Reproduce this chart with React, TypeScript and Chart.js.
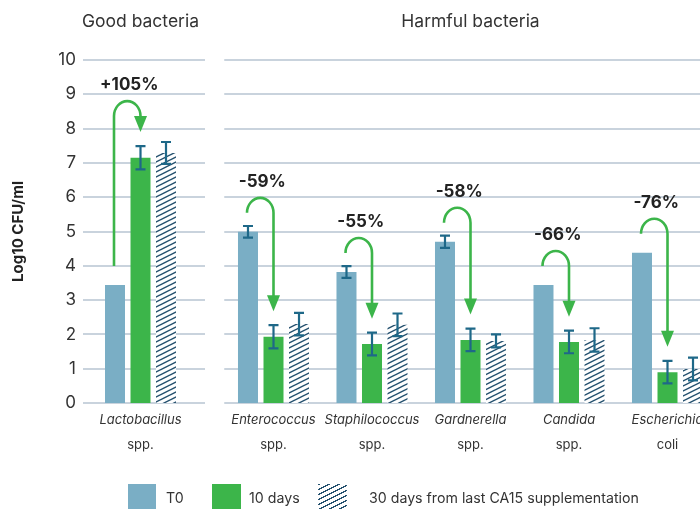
import React, { useEffect, useRef } from 'react';
import { Chart, registerables } from 'chart.js';

Chart.register(...registerables);

// ---------- data ----------
const categories: string[][] = [
  ['Lactobacillus', 'spp.'],
  ['Enterococcus', 'spp.'],
  ['Staphilococcus', 'spp.'],
  ['Gardnerella', 'spp.'],
  ['Candida', 'spp.'],
  ['Escherichia', 'coli'],
];
const panelTitles = ['Good bacteria', 'Harmful bacteria'];
const seriesNames = ['T0', '10 days', '30 days from last CA15 supplementation'];
const t0Values = [3.44, 4.99, 3.82, 4.7, 3.44, 4.38];
const day10Values = [7.15, 1.93, 1.72, 1.84, 1.78, 0.9];
const day30Values = [7.29, 2.3, 2.28, 1.81, 1.84, 0.99];
const t0Errors: (number | null)[] = [null, 0.17, 0.17, 0.18, null, null];
const day10Errors: (number | null)[] = [0.34, 0.34, 0.33, 0.33, 0.33, 0.33];
const day30Errors: (number | null)[] = [0.32, 0.33, 0.33, 0.19, 0.34, 0.33];
const changeLabels = ['+105%', '-59%', '-55%', '-58%', '-66%', '-76%'];
const yMin = 0;
const yMax = 10;
const yStep = 1;
const yAxisTitle = 'Log10 CFU/ml';

// ---------- styles ----------
const T0_COLOR = '#7aaec5';
const GREEN = '#3cb54a';
const HATCH = '#24506e';
const ERR = '#1e6888';
const GRID = '#c9d3dd';
const TEXT = '#333333';
const FONT = 'Inter';

function makeHatch(): CanvasPattern | string {
  const c = document.createElement('canvas');
  const w = 10;
  const h = 5;
  c.width = w;
  c.height = h;
  const g = c.getContext('2d');
  if (!g) return '#ffffff';
  g.fillStyle = '#ffffff';
  g.fillRect(0, 0, w, h);
  g.strokeStyle = HATCH;
  g.lineWidth = 1.4;
  for (const dy of [-h, 0, h]) {
    g.beginPath();
    g.moveTo(0, h + dy);
    g.lineTo(w, dy);
    g.stroke();
  }
  return g.createPattern(c, 'repeat') || '#ffffff';
}

interface PanelCfg {
  start: number;
  end: number;
  showYAxis: boolean;
  gridInset: number;
  titleIndex: number;
  titleCategory: number;
  categoryPercentage: number;
  padding: { left: number; right: number; top: number; bottom: number };
}

function buildChart(canvas: HTMLCanvasElement, cfg: PanelCfg, hatch: CanvasPattern | string) {
  const { start, end } = cfg;
  const labels = categories.slice(start, end);
  const vals = [t0Values.slice(start, end), day10Values.slice(start, end), day30Values.slice(start, end)];
  const errs = [t0Errors.slice(start, end), day10Errors.slice(start, end), day30Errors.slice(start, end)];
  const changes = changeLabels.slice(start, end);

  const plugin = {
    id: 'panelDecor',
    beforeDatasetsDraw(chart: any) {
      const { ctx, chartArea } = chart;
      const y = chart.scales.y;
      ctx.save();
      ctx.strokeStyle = GRID;
      ctx.lineWidth = 2;
      for (let v = yMin; v <= yMax; v += yStep) {
        const py = Math.round(y.getPixelForValue(v));
        ctx.beginPath();
        ctx.moveTo(chartArea.left + cfg.gridInset, py);
        ctx.lineTo(chartArea.right, py);
        ctx.stroke();
      }
      ctx.restore();
    },
    afterDatasetsDraw(chart: any) {
      const { ctx } = chart;
      const y = chart.scales.y;
      ctx.save();
      // error bars
      ctx.strokeStyle = ERR;
      ctx.lineWidth = 2.2;
      for (let d = 0; d < 3; d++) {
        const meta = chart.getDatasetMeta(d);
        meta.data.forEach((el: any, j: number) => {
          const e = errs[d][j];
          if (e == null) return;
          const top = y.getPixelForValue(vals[d][j] + e);
          const bot = y.getPixelForValue(vals[d][j] - e);
          ctx.beginPath();
          ctx.moveTo(el.x, top);
          ctx.lineTo(el.x, bot);
          ctx.moveTo(el.x - 5, top);
          ctx.lineTo(el.x + 5, top);
          ctx.moveTo(el.x - 5, bot);
          ctx.lineTo(el.x + 5, bot);
          ctx.stroke();
        });
      }
      // arrows
      const m0 = chart.getDatasetMeta(0);
      const m1 = chart.getDatasetMeta(1);
      m0.data.forEach((b0: any, j: number) => {
        const b1 = m1.data[j];
        const sx = b0.x - 1;
        const tx = b1.x;
        const sy = b0.y - 19;
        const e1 = errs[1][j] ?? 0;
        const tipY = y.getPixelForValue(vals[1][j] + e1) - 14;
        const headLen = 16;
        const headHalf = 6.5;
        const baseY = tipY - headLen;
        const cy = Math.min(sy, baseY);
        const rx = (tx - sx) / 2;
        const ry = 15;
        const cx = (sx + tx) / 2;
        ctx.strokeStyle = GREEN;
        ctx.fillStyle = GREEN;
        ctx.lineWidth = 2.6;
        ctx.beginPath();
        ctx.moveTo(sx, sy);
        ctx.lineTo(sx, cy);
        ctx.ellipse(cx, cy, rx, ry, 0, Math.PI, 2 * Math.PI);
        ctx.lineTo(tx, baseY + 1);
        ctx.stroke();
        ctx.beginPath();
        ctx.moveTo(tx - headHalf, baseY);
        ctx.lineTo(tx + headHalf, baseY);
        ctx.lineTo(tx, tipY);
        ctx.closePath();
        ctx.fill();
        ctx.fillStyle = '#222222';
        ctx.font = `bold 17px ${FONT}`;
        ctx.textAlign = 'center';
        ctx.textBaseline = 'middle';
        ctx.fillText(changes[j], cx + 2, cy - ry - 16);
      });
      ctx.restore();
    },
    afterDraw(chart: any) {
      const { ctx, chartArea } = chart;
      const xs = chart.scales.x;
      ctx.save();
      ctx.fillStyle = TEXT;
      ctx.textAlign = 'center';
      ctx.textBaseline = 'middle';
      labels.forEach((lab, i) => {
        const x = xs.getPixelForValue(i);
        ctx.font = `italic 13px ${FONT}`;
        ctx.fillText(lab[0], x, chartArea.bottom + 17);
        ctx.font = `13px ${FONT}`;
        ctx.fillText(lab[1], x, chartArea.bottom + 42);
      });
      ctx.font = `17.5px ${FONT}`;
      ctx.fillText(panelTitles[cfg.titleIndex], xs.getPixelForValue(cfg.titleCategory), 22);
      ctx.restore();
    },
  };

  const yScale: any = cfg.showYAxis
    ? {
        min: yMin,
        max: yMax,
        ticks: { stepSize: yStep, padding: 0, color: TEXT, font: { family: FONT, size: 17 } },
        grid: { display: false, drawTicks: false },
        border: { display: false },
        title: {
          display: true,
          text: yAxisTitle,
          color: '#222222',
          font: { family: FONT, size: 15, weight: 'bold' },
          padding: { top: 9, bottom: 0 },
        },
        afterFit: (s: any) => {
          s.width = 76;
        },
      }
    : {
        min: yMin,
        max: yMax,
        ticks: { display: false, stepSize: yStep },
        grid: { display: false, drawTicks: false },
        border: { display: false },
        afterFit: (s: any) => {
          s.width = 0;
        },
      };

  return new Chart(canvas, {
    type: 'bar',
    data: {
      labels: labels.map((l) => l.join(' ')),
      datasets: [
        { label: seriesNames[0], data: vals[0], backgroundColor: T0_COLOR },
        { label: seriesNames[1], data: vals[1], backgroundColor: GREEN },
        { label: seriesNames[2], data: vals[2], backgroundColor: hatch as any },
      ],
    },
    options: {
      responsive: false,
      maintainAspectRatio: false,
      animation: false,
      layout: { padding: cfg.padding },
      datasets: {
        bar: { categoryPercentage: cfg.categoryPercentage, barPercentage: 0.784 },
      } as any,
      plugins: {
        legend: { display: false },
        tooltip: { enabled: false },
        title: { display: false },
      },
      scales: {
        x: {
          ticks: { display: false },
          grid: { display: false, drawTicks: false },
          border: { display: false },
          afterFit: (s: any) => {
            s.height = 0;
          },
        },
        y: yScale,
      },
    },
    plugins: [plugin],
  });
}

export default function App() {
  const leftRef = useRef<HTMLCanvasElement>(null);
  const rightRef = useRef<HTMLCanvasElement>(null);

  useEffect(() => {
    Chart.defaults.font.family = FONT;
    const hatch = makeHatch();
    const c1 = buildChart(
      leftRef.current as HTMLCanvasElement,
      {
        start: 0,
        end: 1,
        showYAxis: true,
        gridInset: 7,
        titleIndex: 0,
        titleCategory: 0,
        categoryPercentage: 0.593,
        padding: { left: 0, right: 10, top: 60, bottom: 106 },
      },
      hatch
    );
    const c2 = buildChart(
      rightRef.current as HTMLCanvasElement,
      {
        start: 1,
        end: 6,
        showYAxis: false,
        gridInset: 0,
        titleIndex: 1,
        titleCategory: 2,
        categoryPercentage: 0.777,
        padding: { left: 9.25, right: 8.25, top: 60, bottom: 106 },
      },
      hatch
    );
    return () => {
      c1.destroy();
      c2.destroy();
    };
  }, []);

  const legendText: React.CSSProperties = {
    position: 'absolute',
    top: 488,
    font: `14.2px ${FONT}`,
    color: TEXT,
    lineHeight: '20px',
    whiteSpace: 'nowrap',
  };

  return (
    <div
      style={{
        position: 'fixed',
        left: 0,
        top: 0,
        width: 700,
        height: 509,
        overflow: 'hidden',
        background: '#ffffff',
      }}
    >
      <canvas ref={leftRef} width={215} height={509} style={{ position: 'absolute', left: 0, top: 0 }} />
      <canvas ref={rightRef} width={510} height={509} style={{ position: 'absolute', left: 215, top: 0 }} />
      <div style={{ position: 'absolute', left: 128, top: 484, width: 28, height: 26, background: T0_COLOR }} />
      <span style={{ ...legendText, left: 166 }}>{seriesNames[0]}</span>
      <div style={{ position: 'absolute', left: 212, top: 484, width: 29, height: 26, background: GREEN }} />
      <span style={{ ...legendText, left: 249 }}>{seriesNames[1]}</span>
      <div
        style={{
          position: 'absolute',
          left: 318,
          top: 484,
          width: 29,
          height: 26,
          background: `repeating-linear-gradient(153deg, ${HATCH} 0px, ${HATCH} 1.3px, transparent 1.3px, transparent 4.5px)`,
        }}
      />
      <span style={{ ...legendText, left: 369 }}>{seriesNames[2]}</span>
    </div>
  );
}
